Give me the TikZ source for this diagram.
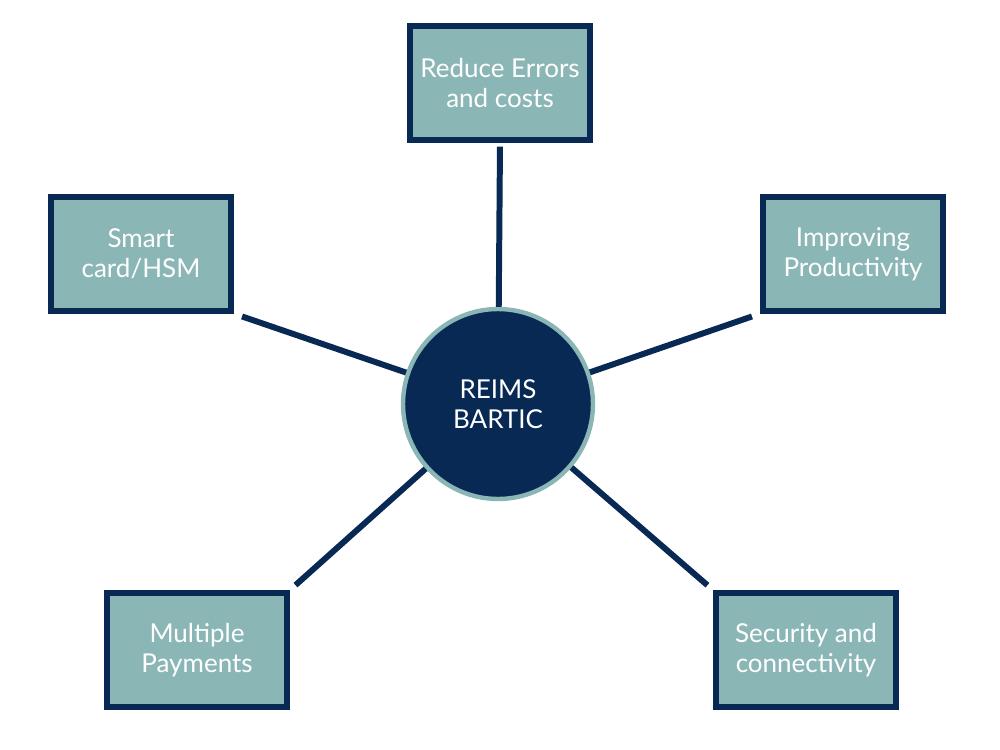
\documentclass[tikz,border=0pt]{standalone}
\usepackage{fontspec}
\setmainfont{Lato}
\definecolor{reimsnavy}{RGB}{8, 41, 84}
\definecolor{reimsteal}{RGB}{139, 182, 182}
\usepackage{tikz}
\usetikzlibrary{positioning}

\begin{document}
\begin{tikzpicture}[
                x=0.02cm,y=-0.02cm,
                feature/.style={draw=reimsnavy,fill=reimsteal,line width=2.9pt,minimum width=3.6cm,minimum height=2.28cm,align=center,text=white,font=\fontsize{14.8}{17}\selectfont},
                hub/.style={circle,draw=reimsteal,fill=reimsnavy,line width=2.5pt,minimum size=3.8cm,align=center,text=white,font=\fontsize{14.8}{17}\selectfont},
                spoke/.style={draw=reimsnavy,line width=3.4pt}
            ]
                \useasboundingbox (0,0) rectangle (1000,750);

                % Hub
                \node[hub] (reims) at (498,404) {REIMS\\BARTIC};

                % Features
                \node[feature] (errors) at (500,83) {Reduce Errors\\and costs};
                \node[feature] (smart) at (141,254) {Smart\\card/HSM};
                \node[feature] (prod) at (853,254) {Improving\\Productivity};
                \node[feature] (pay) at (197,650) {Multiple\\Payments};
                \node[feature] (sec) at (806,650) {Security and\\connectivity};

                % Connections
                \draw[spoke,shorten >=0.08cm] (reims) -- (errors.south);
                \draw[spoke,shorten >=0.18cm] (reims) -- (smart.south east);
                \draw[spoke,shorten >=0.18cm] (reims) -- (prod.south west);
                \draw[spoke,shorten >=0.16cm] (reims) -- (pay.north east);
                \draw[spoke,shorten >=0.16cm] (reims) -- (sec.north west);
            \end{tikzpicture}
\end{document}
